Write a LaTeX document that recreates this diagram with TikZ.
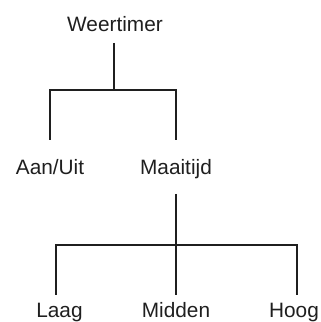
\documentclass[tikz,border=0pt]{standalone}
\usepackage{fontspec}
\setmainfont{Liberation Sans}
\begin{document}
\begin{tikzpicture}[x=1pt,y=1pt,
  lbl/.style={font=\fontsize{20.8}{24}\selectfont, text=black!88, inner sep=0pt, anchor=base},
  conn/.style={line width=2.8pt, draw=black!88}]
\useasboundingbox (0,0) rectangle (321,322);
\node[lbl] (w) at (115,290) {Weertimer};
\node[lbl] (a) at (50,147) {Aan/Uit};
\node[lbl] (m) at (176,147) {Maaitijd};
\node[lbl] (l) at (59.5,5) {Laag};
\node[lbl] (mi) at (176,5) {Midden};
\node[lbl] (h) at (294,5) {Hoog};
\coordinate (j1) at (114,232);
\coordinate (j2) at (176,77);
\draw[conn] ([xshift=-1pt,yshift=-11pt]w.base) -- (j1);
\draw[conn] ([yshift=35pt]a.base) |- (j1) -| ([yshift=35pt]m.base);
\draw[conn] ([yshift=-19pt]m.base) -- (j2);
\draw[conn] ([xshift=-3.5pt,yshift=22pt]l.base) |- (j2) -| ([xshift=3pt,yshift=22pt]h.base);
\draw[conn] (j2) -- ([yshift=22pt]mi.base);
\end{tikzpicture}
\end{document}
